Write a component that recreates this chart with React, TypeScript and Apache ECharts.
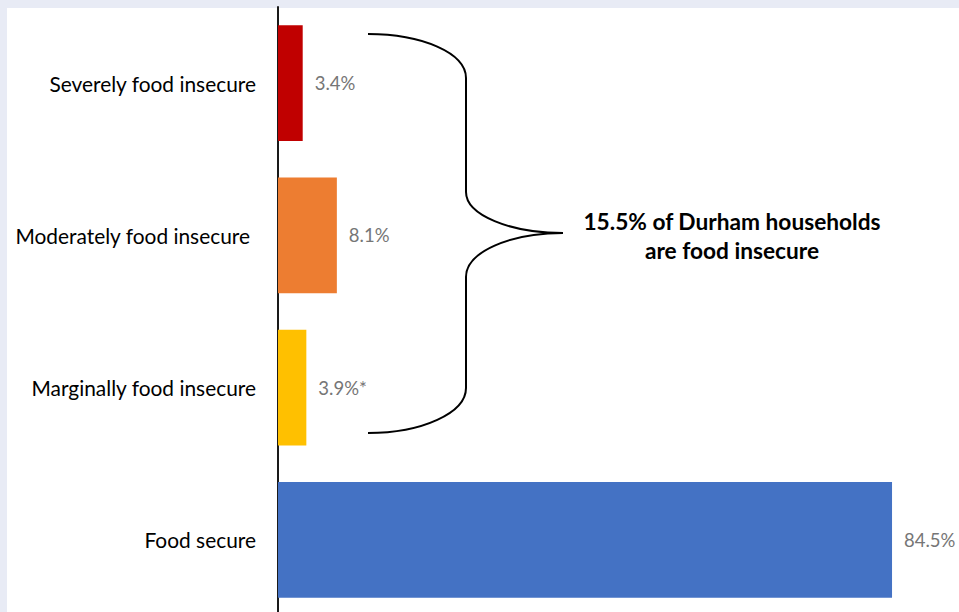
import React, { useEffect, useRef } from "react";
import * as echarts from "echarts";

const categories = [
  "Severely food insecure",
  "Moderately food insecure",
  "Marginally food insecure",
  "Food secure",
];
const values = [3.4, 8.1, 3.9, 84.5];
const valueLabels = ["3.4%", "8.1%", "3.9%*", "84.5%"];
const barColors = ["#c00000", "#ed7d31", "#ffc000", "#4472c4"];
const noteLines = ["15.5% of Durham households", "are food insecure"];

export default function App() {
  const ref = useRef<HTMLDivElement>(null);
  useEffect(() => {
    if (!ref.current) return;
    const chart = echarts.init(ref.current, undefined, { renderer: "svg" });
    const stroke = { stroke: "#000", lineWidth: 2, fill: "none" };
    chart.setOption({
      animation: false,
      backgroundColor: "transparent",
      grid: { left: 278, right: 27, top: 7, height: 609, containLabel: false },
      xAxis: { type: "value", min: 0, max: 90, show: false },
      yAxis: {
        type: "category",
        inverse: true,
        data: categories,
        axisLine: { show: true, lineStyle: { color: "#1a1a1a", width: 2 } },
        axisTick: { show: false },
        axisLabel: {
          margin: 22,
          fontSize: 20.9,
          color: "#000",
          fontFamily: "Lato",
          formatter: (v: string) =>
            v === "Moderately food insecure" ? "{m|" + v + "}" : v,
          rich: {
            m: { padding: [0, 6, 0, 0], fontSize: 20.9, color: "#000", fontFamily: "Lato" },
          },
        },
      },
      series: [
        {
          type: "bar",
          barWidth: "76%",
          data: values.map((v, i) => ({ value: v, itemStyle: { color: barColors[i] } })),
          label: {
            show: true,
            position: "right",
            distance: 12,
            color: "#767676",
            fontSize: 18.5,
            fontFamily: "Lato",
            formatter: (p: any) => valueLabels[p.dataIndex],
          },
        },
      ],
      graphic: [
        { type: "bezierCurve", shape: { x1: 368, y1: 34, cpx1: 422, cpy1: 34, cpx2: 466, cpy2: 53, x2: 466, y2: 78 }, style: stroke },
        { type: "line", shape: { x1: 466, y1: 78, x2: 466, y2: 192 }, style: stroke },
        { type: "bezierCurve", shape: { x1: 466, y1: 192, cpx1: 466, cpy1: 215, cpx2: 510, cpy2: 233, x2: 563, y2: 233 }, style: stroke },
        { type: "bezierCurve", shape: { x1: 563, y1: 233, cpx1: 510, cpy1: 233, cpx2: 466, cpy2: 252, x2: 466, y2: 277 }, style: stroke },
        { type: "line", shape: { x1: 466, y1: 277, x2: 466, y2: 388 }, style: stroke },
        { type: "bezierCurve", shape: { x1: 466, y1: 388, cpx1: 466, cpy1: 413, cpx2: 422, cpy2: 433, x2: 368, y2: 433 }, style: stroke },
        {
          type: "text",
          x: 732,
          y: 221,
          style: { text: noteLines[0], font: "bold 22.7px Lato", fill: "#000", textAlign: "center", textVerticalAlign: "middle" },
        },
        {
          type: "text",
          x: 732,
          y: 250,
          style: { text: noteLines[1], font: "bold 22.7px Lato", fill: "#000", textAlign: "center", textVerticalAlign: "middle" },
        },
      ],
    });
    return () => chart.dispose();
  }, []);
  return (
    <div style={{ position: "fixed", left: 0, top: 0, width: 959, height: 612, background: "#e8ebf5", overflow: "hidden" }}>
      <div style={{ position: "absolute", left: 7, top: 8, right: 0, bottom: 0, background: "#fff" }} />
      <div ref={ref} style={{ position: "absolute", left: 0, top: 0, width: 959, height: 620 }} />
    </div>
  );
}
